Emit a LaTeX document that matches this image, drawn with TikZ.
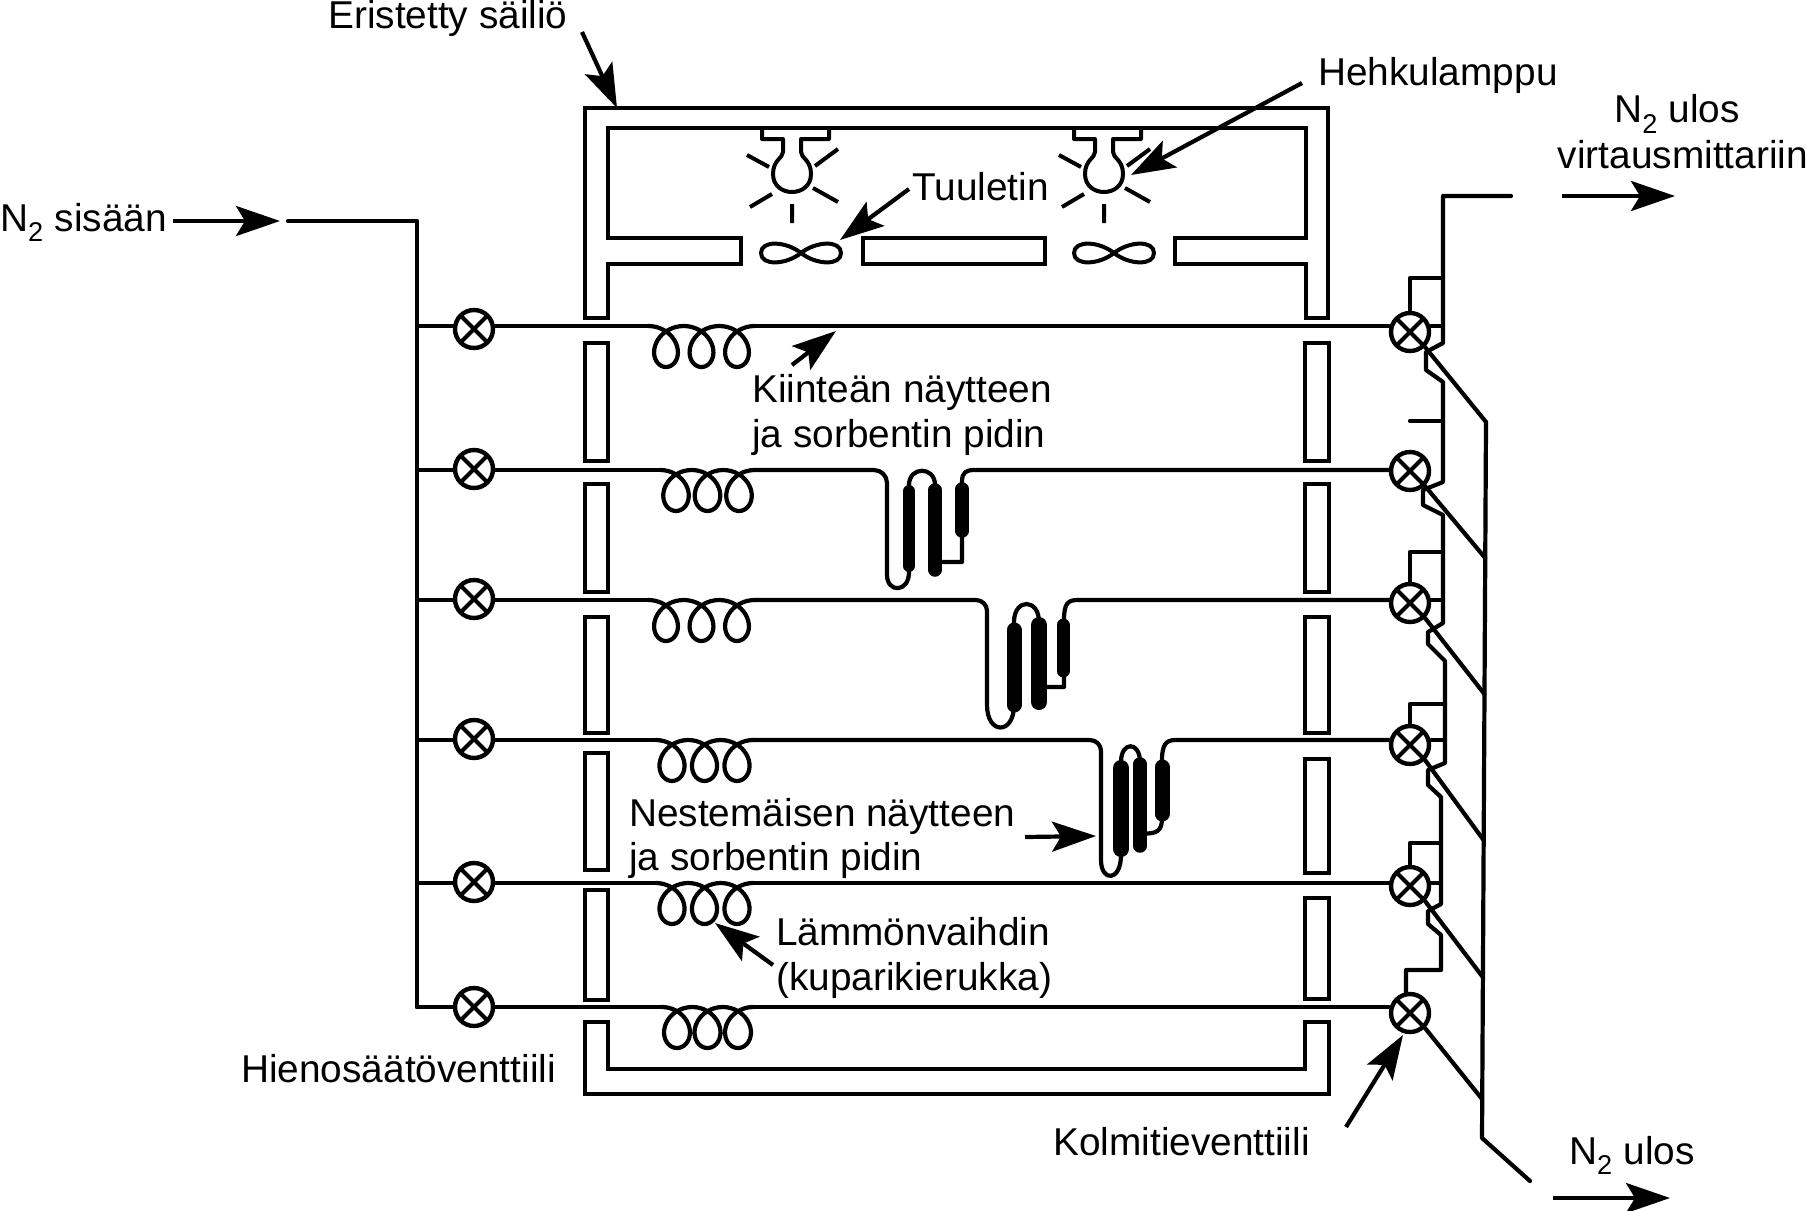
\documentclass[tikz,border=0pt]{standalone}
\usepackage{fontspec}
\setmainfont{Liberation Sans}
\usetikzlibrary{arrows.meta,calc}
\tikzset{
  wall/.style={line width=4.2pt,line join=miter},
  pipe/.style={line width=4.2pt,line join=round,line cap=round},
  thinpipe/.style={line width=4pt,line join=round,line cap=round},
  tube/.style={line width=#1,line cap=round},
  ray/.style={line width=4pt},
  valve/.style={circle,draw,line width=4.4pt,minimum size=38pt,inner sep=0pt,fill=white,
    path picture={\draw[line width=4pt]
      (path picture bounding box.north west) -- (path picture bounding box.south east)
      (path picture bounding box.north east) -- (path picture bounding box.south west);}},
  flow/.style={line width=4.2pt,-{Stealth[length=44pt,width=30pt,inset=9pt]},shorten >=0pt},
  label/.style={inner sep=0pt,align=left,anchor=west,font=\fontsize{38.8}{44.2}\selectfont},
}
% three-turn heat exchanger coil between the first and last loop centres
\newcommand{\coil}[3]{%
  \pgfmathsetmacro{\coilS}{(#2-#1)/2}%
  \draw[pipe] plot[domain=-3.1416:15.708,samples=121,smooth,variable=\t]
    ({#1+\coilS/6.2832*\t-20*sin(\t r)},{#3+20.5+20.5*cos(\t r)});}
% filament lamp hanging from the chamber ceiling, centred on x
\newcommand{\lamp}[1]{%
  \begin{scope}[shift={(#1,0)}]
    \draw[thinpipe] (-30,128) -- (-30,139) -- (-9,139) -- (-9,152)
      .. controls (-9,158) and (-19,160) .. (-19,174)
      .. controls (-19,198) and (19,198) .. (19,174)
      .. controls (19,160) and (9,158) .. (9,152) -- (9,139) -- (37,139) -- (37,128);
    \draw[ray] (0,204) -- (0,223)
      (-45,155) -- (-23,167) (46,149) -- (23,166)
      (-42,207) -- (-20,194) (46,202) -- (21,188);
  \end{scope}}
% two-bladed fan seen edge on
\newcommand{\fan}[1]{%
  \draw[thinpipe] (#1,253) .. controls (#1+15,241) and (#1+40,240) .. (#1+40,253)
    .. controls (#1+40,266) and (#1+15,265) .. (#1,253)
    .. controls (#1-15,241) and (#1-40,240) .. (#1-40,253)
    .. controls (#1-40,266) and (#1-15,265) .. (#1,253);}
\begin{document}
\begin{tikzpicture}[x=1pt,y=-1pt]
\useasboundingbox (0,0) rectangle (1806,1210);
\fill[white] (0,0) rectangle (1806,1210);

% insulated chamber: upper part, baffles, bottom and wall segments
\draw[wall] (585,318) -- (585,108) -- (1328,108) -- (1328,318) -- (1306,318) -- (1306,264)
  -- (1175,264) -- (1175,238) -- (1306,238) -- (1306,128) -- (608,128) -- (608,238)
  -- (741,238) -- (741,264) -- (608,264) -- (608,318) -- cycle;
\draw[wall] (863,238) rectangle (1045,264);
\draw[wall] (585,1022) -- (585,1094) -- (1329,1094) -- (1329,1022) -- (1305,1022)
  -- (1305,1069) -- (608,1069) -- (608,1022) -- cycle;
\foreach \ya/\yb in {343/461,484/592,617/733,753/870,890/1000}
  \draw[wall] (585,\ya) rectangle (608,\yb);
\foreach \ya/\yb in {343/461,484/592,617/733,759/873,898/999}
  \draw[wall] (1305,\ya) rectangle (1329,\yb);

\lamp{792}
\lamp{1104}
\fan{801}
\fan{1114}

% inlet manifold and the branch points of the six sample lines
\coordinate (inlet) at (288,221);
\coordinate (mbend) at (417,221);
\foreach \n/\y in {1/326,2/470,3/600,4/740,5/883,6/1007}
  \coordinate (h\n) at (417,\y);
\draw[pipe] (inlet) -- (mbend) -- (h6);

% fine-adjustment valves on the left, three-way valves on the right
\foreach \n/\y in {1/329,2/469,3/599,4/739,5/882,6/1007}
  \node[valve] (vL\n) at (474,\y) {};
\foreach \n/\y in {1/332,2/471,3/603,4/745,5/886,6/1013}
  \node[valve] (vR\n) at (1410,\y) {};

\foreach \n in {1,...,6}
  \draw[pipe] (h\n) -- (h\n -| vL\n.west);

% lines with coils only
\coil{666}{737}{326}
\draw[pipe] (h1 -| vL1.east) -- (648,326);
\draw[pipe] (754,326) -- (h1 -| vR1.west);
\coil{672}{737}{883}
\draw[pipe] (h5 -| vL5.east) -- (656,883);
\draw[pipe] (753,883) -- (h5 -| vR5.west);
\coil{677}{738}{1007}
\draw[pipe] (h6 -| vL6.east) -- (662,1007);
\draw[pipe] (753,1007) -- (h6 -| vR6.west);

% line with the first sample holder
\coil{676}{739}{470}
\draw[pipe] (h2 -| vL2.east) -- (660,470);
\draw[pipe] (755,470) [rounded corners=13pt] -- (887,470) -- (887,560) [sharp corners] -- (887,575)
  .. controls (887,593) and (909,593) .. (909,572) -- (909,485)
  .. controls (909,466) and (935,466) .. (935,485) -- (935,562) -- (962,562) -- (962,482)
  .. controls (962,472) and (966,470) .. (975,470) -- (h2 -| vR2.west);
\draw[tube=12pt] (909,491) -- (909,566);
\draw[tube=13.5pt] (935,490) -- (935,570);
\draw[tube=13.5pt] (962,489) -- (962,531);

% line with the second sample holder
\coil{666}{737}{600}
\draw[pipe] (h3 -| vL3.east) -- (648,600);
\draw[pipe] (755,600) [rounded corners=11pt] -- (987,600) -- (987,690) [sharp corners] -- (987,705)
  .. controls (987,735) and (1014,735) .. (1014,705) -- (1014,622)
  .. controls (1014,598) and (1039,598) .. (1039,622) -- (1039,687) -- (1064,687) -- (1064,620)
  .. controls (1064,603) and (1068,600) .. (1078,600) -- (h3 -| vR3.west);
\draw[tube=15pt] (1014,630) -- (1014,705);
\draw[tube=16pt] (1039,625) -- (1039,702);
\draw[tube=13pt] (1063,625) -- (1063,671);

% line with the third sample holder
\coil{672}{737}{740}
\draw[pipe] (h4 -| vL4.east) -- (656,740);
\draw[pipe] (753,740) [rounded corners=11pt] -- (1101,740) -- (1101,830) [sharp corners] -- (1101,860)
  .. controls (1101,882) and (1121,882) .. (1121,855) -- (1121,762)
  .. controls (1121,741) and (1140,741) .. (1140,762) -- (1140,833)
  .. controls (1158,835) and (1162,830) .. (1162,818) -- (1162,760)
  .. controls (1162,745) and (1166,740) .. (1175,740) -- (h4 -| vR4.west);
\draw[tube=16pt] (1121,768) -- (1121,849);
\draw[tube=13.5pt] (1140,764) -- (1140,846);
\draw[tube=15pt] (1162,767) -- (1162,814);

% outlet riser on the three-way valves
\coordinate (outA) at (1511,196);
\foreach \n/\y in {1/422,2/558,3/694,4/840,5/977,6/1099}
  \coordinate (j\n) at ({1486-4*(\y-422)/677},\y);
\coordinate (jend) at (1482,1138);
\coordinate (outB) at (1530,1181);
\draw[pipe] (outA) -- (1443,196) -- (1443,343) -- (1426,352) -- (1426,370) -- (1443,382)
  -- (1443,482) -- (1423,490) -- (1423,505) -- (1443,515) -- (1443,623) -- (1428,632)
  -- (1428,644) -- (1445,661) -- (1445,763) -- (1428,770) -- (1428,785) -- (1441,797)
  -- (1441,904) -- (1428,911) -- (1428,924) -- (1441,935) -- (1441,970) -- (1406,970)
  -- (1406,993);
\draw[pipe] (vR1.north) |- (1443,278);
\draw[pipe] (1410,421) -- (1443,421);
\draw[pipe] (vR3.north) |- (1443,552);
\draw[pipe] (vR4.north) |- (1445,704);
\draw[pipe] (vR5.north) |- (1441,843);
\draw[pipe] (vR1.east |- h1) -- (1443,326);
\draw[pipe] (vR3.east |- h3) -- (1443,600);
\draw[pipe] (vR4.east |- h4) -- (1445,740);
\draw[pipe] (vR5.east |- h5) -- (1441,883);

% vent collector
\draw[pipe] (j1) -- (jend) -- (outB);
\foreach \n in {1,...,6}
  \draw[pipe] (vR\n.south east) -- (j\n);

% flow direction and call-out arrows
\coordinate (aIn1) at (173,221);   \coordinate (aIn2) at (280,221);
\coordinate (aOut1) at (1562,196); \coordinate (aOut2) at (1675,196);
\coordinate (aVent1) at (1553,1198); \coordinate (aVent2) at (1670,1198);
\coordinate (cSa) at (582,32);     \coordinate (cSb) at (617,108);
\coordinate (cHa) at (1302,83);    \coordinate (cHb) at (1131,175);
\coordinate (cTa) at (909,189);    \coordinate (cTb) at (840,240);
\coordinate (cKa) at (792,365);    \coordinate (cKb) at (836,331);
\coordinate (cNa) at (1025,837);   \coordinate (cNb) at (1096,836);
\coordinate (cLa) at (773,965);    \coordinate (cLb) at (715,923);
\coordinate (cVa) at (1346,1127);  \coordinate (cVb) at (1403,1035);
\foreach \a/\b in {aIn1/aIn2,aOut1/aOut2,aVent1/aVent2,cSa/cSb,cHa/cHb,cTa/cTb,cKa/cKb,cNa/cNb,cLa/cLb,cVa/cVb}
  \draw[flow] (\a) -- (\b);

% labels
\node[label,anchor=base west] (lblTank) at (328,28) {Eristetty säiliö};
\node[label] (lblLamp) at (1318,75.5) {Hehkulamppu};
\node[label] (lblFan) at (912,187) {Tuuletin};
\node[label,align=center,anchor=center] (lblOut) at (1683,132) {N\textsubscript{2} ulos\hspace*{12pt}\\[2pt]virtausmittariin};
\node[label] (lblIn) at (0,222.5) {N\textsubscript{2} sisään};
\node[label] (lblSolid) at (752,415) {Kiinteän näytteen\\ja sorbentin pidin};
\node[label] (lblLiquid) at (629,838.5) {Nestemäisen näytteen\\ja sorbentin pidin};
\node[label] (lblCoil) at (776,958) {Lämmönvaihdin\\(kuparikierukka)};
\node[label] (lblFine) at (241,1069) {Hienosäätöventtiili};
\node[label] (lblThree) at (1053,1142) {Kolmitieventtiili};
\node[label] (lblVent) at (1569,1155.5) {N\textsubscript{2} ulos};
\end{tikzpicture}
\end{document}
